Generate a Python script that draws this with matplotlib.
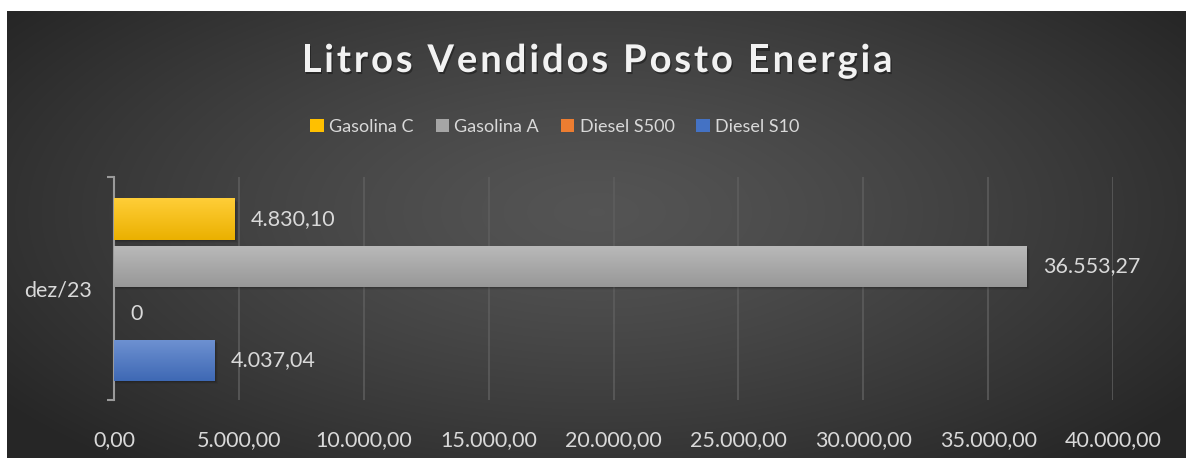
import numpy as np
import matplotlib
matplotlib.use("Agg")
import matplotlib.pyplot as plt
import matplotlib.patheffects as pe
from matplotlib.patches import Patch
from matplotlib.colors import to_rgb

# data
category = "dez/23"
series_names = ["Gasolina C", "Gasolina A", "Diesel S500", "Diesel S10"]
series_values = [4830.10, 36553.27, 0.0, 4037.04]
series_colors = ["#FFC000", "#A5A5A5", "#ED7D31", "#4472C4"]
x_ticks = [0, 5000, 10000, 15000, 20000, 25000, 30000, 35000, 40000]
title = "Litros Vendidos Posto Energia"

plt.rcParams['font.family'] = ['Lato', 'DejaVu Sans']

W, H = 1186, 458


def br_fmt(v, zero_plain=False):
    if zero_plain and v == 0:
        return "0"
    s = f"{v:,.2f}"
    return s.replace(",", "X").replace(".", ",").replace("X", ".")


def shade(c, f):
    r, g, b = to_rgb(c)
    if f >= 0:
        return (r + (1 - r) * f, g + (1 - g) * f, b + (1 - b) * f)
    return (r * (1 + f), g * (1 + f), b * (1 + f))


fig = plt.figure(figsize=(W / 100, H / 100), dpi=100)
fig.patch.set_facecolor("white")

# background with radial gradient
bg = fig.add_axes([7 / W, 0, 1 - 7 / W, 1 - 11 / H])
bg.set_axis_off()
yy, xx = np.mgrid[0:1:300j, 0:1:600j]
d = np.sqrt(((xx - 0.5) / 0.62) ** 2 + ((yy - 0.45) / 0.75) ** 2)
d = np.clip(d, 0, 1)
lum = 0.33 - 0.18 * d ** 1.3
bg.imshow(np.dstack([lum, lum, lum]), aspect="auto", extent=(0, 1, 0, 1),
          interpolation="bicubic")
bg.set_xlim(0, 1)
bg.set_ylim(0, 1)

ax = fig.add_axes([114 / W, 1 - 400 / H, (1113 - 114) / W, 223 / H])
ax.set_facecolor("none")

n = len(series_names)
slot = 47 / 223
bar_h = 41 / 223
offsets = [(i - (n - 1) / 2) * slot + 0.007 for i in range(n)]

for name, val, col, off in zip(series_names, series_values, series_colors, offsets):
    bars = ax.barh([off], [val], height=bar_h, color=col, zorder=3)
    for p in bars:
        x0, y0 = p.get_x(), p.get_y()
        w, h = p.get_width(), p.get_height()
        if w <= 0:
            continue
        # soft shadow
        for k, a in enumerate([0.12, 0.08, 0.05]):
            ax.add_patch(plt.Rectangle((x0, y0 + h * 0.02 * (k + 1)), w + 40 * (k + 1), h,
                                       color="black", alpha=a, zorder=2, lw=0))
        grad = np.linspace(0, 1, 50)[:, None]
        top = np.array(shade(col, 0.22))
        bot = np.array(shade(col, -0.08))
        img = top[None, None, :] * (1 - grad[..., None]) + bot[None, None, :] * grad[..., None]
        img = np.repeat(img, 2, axis=1)
        ax.imshow(img, extent=(x0, x0 + w, y0 + h, y0), aspect="auto", zorder=4,
                  interpolation="bilinear")
    ax.text(val + 640, off, br_fmt(val, zero_plain=True), va="center", ha="left",
            color="#d9d9d9", fontsize=15.5, zorder=5)

ax.set_xlim(0, 40000)
ax.set_ylim(0.5, -0.5)
ax.set_xticks(x_ticks)
ax.set_xticklabels([br_fmt(v) for v in x_ticks])
ax.tick_params(axis="x", length=0, pad=22, colors="#d9d9d9", labelsize=15.5)
ax.grid(axis="x", color="#5e5e5e", linewidth=1.1, zorder=1)
ax.set_yticks([0])
ax.set_yticklabels([category])
ax.set_yticks([-0.5, 0.5], minor=True)
ax.tick_params(axis="y", which="major", length=0, pad=16, colors="#d9d9d9", labelsize=15.5)
ax.tick_params(axis="y", which="minor", length=5, width=1.5, color="#9a9a9a")
for s in ["top", "right", "bottom"]:
    ax.spines[s].set_visible(False)
ax.spines["left"].set_color("#9a9a9a")
ax.spines["left"].set_linewidth(1.5)

# title with letter spacing, placed char by char
renderer = fig.canvas.get_renderer()
tkw = dict(color="#f2f2f2", fontsize=27.5, fontweight="bold", va="baseline", ha="left")
probe = fig.text(0, 0, title, **tkw)
full_w = probe.get_window_extent(renderer).width
probe.remove()
target_w = 591
spacing = (target_w - full_w) / (len(title) - 1)
left_px = 597 - target_w / 2
base_y = 1 - 72 / H
shadow = [pe.withSimplePatchShadow(offset=(1, -1.5), shadow_rgbFace="black", alpha=0.35)]
for i, ch in enumerate(title):
    if ch == " ":
        continue
    if i > 0:
        t = fig.text(0, 0, title[:i], **tkw)
        pw = t.get_window_extent(renderer).width
        t.remove()
    else:
        pw = 0
    fig.text((left_px + pw + i * spacing) / W, base_y, ch, path_effects=shadow, **tkw)

handles = []
for name, col in zip(series_names, series_colors):
    handles.append(Patch(facecolor=col, edgecolor="none", label=name))
fig.legend(handles=handles, loc="center", bbox_to_anchor=(555 / W, 1 - 127 / H),
           ncol=4, frameon=False, fontsize=13, labelcolor="#d9d9d9",
           handlelength=0.75, handleheight=0.75, handletextpad=0.3, columnspacing=1.2)

fig.savefig("out.png", dpi=100, facecolor=fig.get_facecolor())
